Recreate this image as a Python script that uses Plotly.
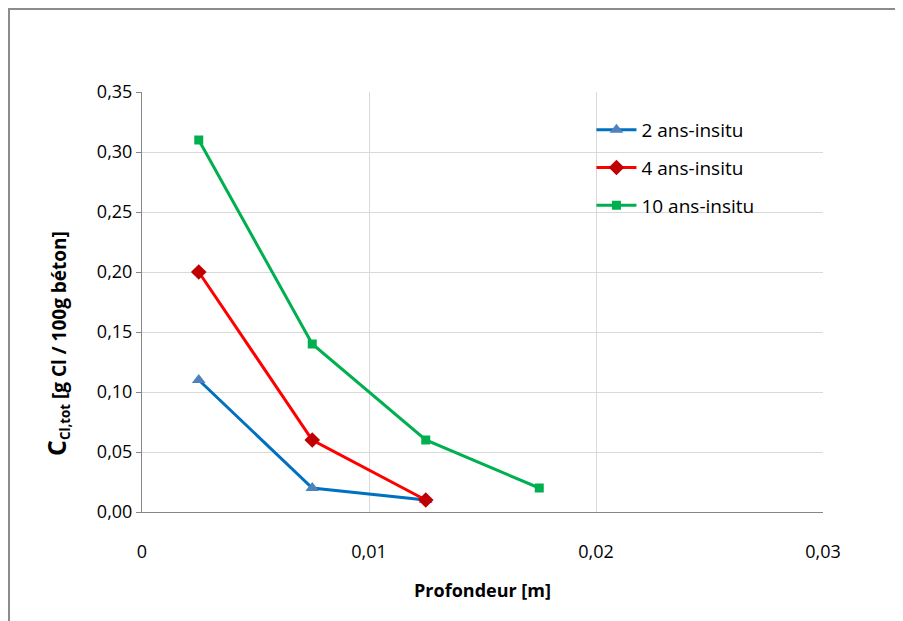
import plotly.graph_objects as go

x_depth = [0.0025, 0.0075, 0.0125, 0.0175]
y_2ans = [0.11, 0.02, 0.01]
y_4ans = [0.20, 0.06, 0.01]
y_10ans = [0.31, 0.14, 0.06, 0.02]
x_tickvals = [0, 0.01, 0.02, 0.03]
x_ticktext = ["0", "0,01", "0,02", "0,03"]
y_tickvals = [0, 0.05, 0.10, 0.15, 0.20, 0.25, 0.30, 0.35]
y_ticktext = ["0,00", "0,05", "0,10", "0,15", "0,20", "0,25", "0,30", "0,35"]
y_title = "<b><span style='font-size:25px'>C</span><sub>Cl,tot</sub> [g Cl / 100g béton]</b>"

FONT = "'Open Sans', Lato, sans-serif"
L, R, T, B = 134, 88, 84, 117
PW, PH = 903 - L - R, 621 - T - B

fig = go.Figure()
fig.add_trace(go.Scatter(x=x_depth[:3], y=y_2ans, name="2 ans-insitu", mode="lines+markers",
                         line=dict(color="#0070C0", width=3),
                         marker=dict(symbol="triangle-up", size=12, color="#4F81BD"),
                         legendgroup="a"))
fig.add_trace(go.Scatter(x=x_depth[:3], y=y_4ans, name="4 ans-insitu", mode="lines+markers",
                         line=dict(color="#FF0000", width=3),
                         marker=dict(symbol="diamond", size=12, color="#C00000"),
                         legendgroup="b"))
fig.add_trace(go.Scatter(x=x_depth, y=y_10ans, name="10 ans-insitu", mode="lines+markers",
                         line=dict(color="#00B050", width=3),
                         marker=dict(symbol="square", size=9, color="#00B050"),
                         legendgroup="c"))

fig.update_layout(
    width=903, height=621,
    margin=dict(l=L, r=R, t=T, b=B),
    paper_bgcolor="white", plot_bgcolor="white",
    font=dict(family=FONT, size=18, color="#000000"),
    showlegend=True,
    legend=dict(x=0.66, y=0.955, xanchor="left", yanchor="top",
                font=dict(size=19, family=FONT), tracegroupgap=10,
                bgcolor="rgba(0,0,0,0)", itemwidth=40),
    xaxis=dict(range=[0, 0.03], tickvals=x_tickvals, ticktext=x_ticktext,
               showgrid=True, gridcolor="#D9D9D9", gridwidth=1,
               showline=True, linecolor="#868686", linewidth=1,
               ticks="outside", ticklen=23, tickcolor="rgba(0,0,0,0)",
               zeroline=False, tickfont=dict(size=18),
               title=dict(text="<b>Profondeur [m]</b>", font=dict(size=18), standoff=22)),
    yaxis=dict(range=[0, 0.35], tickvals=y_tickvals, ticktext=y_ticktext,
               showgrid=True, gridcolor="#D9D9D9", gridwidth=1,
               showline=True, linecolor="#868686", linewidth=1,
               ticks="outside", ticklen=5, tickcolor="#868686",
               zeroline=False, tickfont=dict(size=18)),
    annotations=[dict(text=y_title, xref="paper", yref="paper",
                      x=(56 - 8 - L) / PW, y=(PH + T - (344 - 8)) / PH,
                      xanchor="center", yanchor="middle", textangle=-90,
                      showarrow=False, font=dict(size=19, family=FONT))],
    shapes=[dict(type="rect", xref="paper", yref="paper",
                 x0=(1 - L) / PW, x1=(930 - L) / PW,
                 y0=(PH + T - 660) / PH, y1=(PH + T - 1) / PH,
                 line=dict(color="#8C8C8C", width=2), layer="below")],
)

fig.write_html("out.html")
